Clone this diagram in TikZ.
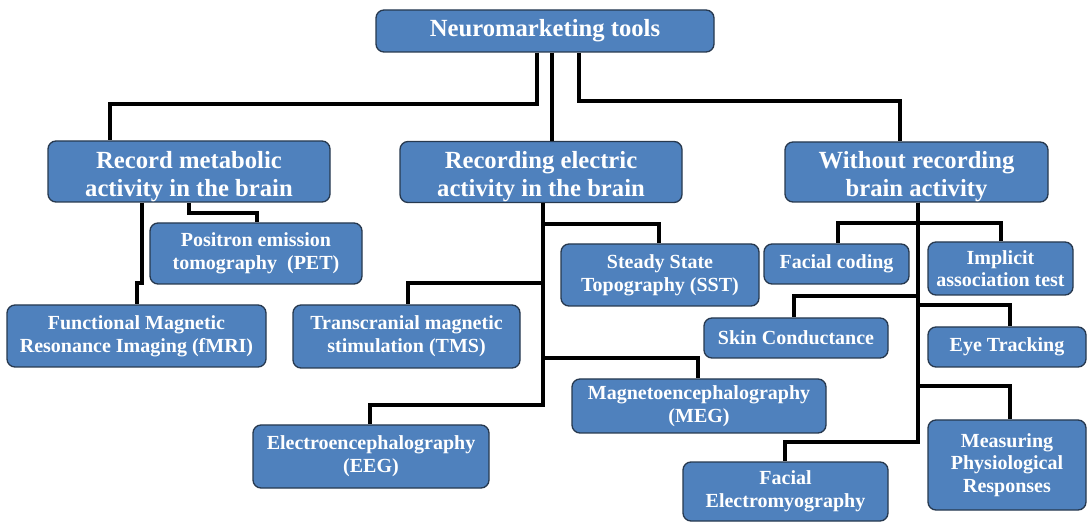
\documentclass[tikz,border=0pt]{standalone}
\usepackage{fontspec}
\setmainfont{Liberation Serif}
\definecolor{boxblue}{HTML}{4F81BD}
\definecolor{boxedge}{HTML}{27394F}
\newcommand{\lift}{\rule{0pt}{20pt}}

\begin{document}
\begin{tikzpicture}[x=0.75pt, y=-0.75pt,
  tool/.style={draw=boxedge, line width=1pt, fill=boxblue, rounded corners=6pt,
    text=white, align=center, inner sep=0pt,
    font=\bfseries\fontsize{15}{17}\selectfont},
  group/.style={tool, font=\bfseries\fontsize{18.5}{21}\selectfont},
  link/.style={line width=3pt, black}]
  \useasboundingbox (0,0) rectangle (1088,523);

  \node[group, minimum width=253.5pt, minimum height=31.5pt] (top) at (545, 31) {Neuromarketing tools};
  \node[group, minimum width=211.5pt, minimum height=45.75pt] (metab) at (189, 171.5) {\lift Record metabolic\\activity in the brain};
  \node[group, minimum width=211.5pt, minimum height=45.75pt] (elec) at (541, 172) {\lift Recording electric\\activity in the brain};
  \node[group, minimum width=197.25pt, minimum height=45pt] (nobrain) at (916.5, 172) {\lift Without recording\\brain activity};

  \node[tool, minimum width=159pt, minimum height=45.75pt] (pet) at (256, 253.5) {Positron emission\\tomography~ (PET)};
  \node[tool, minimum width=194.25pt, minimum height=46.5pt] (fmri) at (136.5, 336) {Functional Magnetic\\Resonance Imaging (fMRI)};
  \node[tool, minimum width=170.25pt, minimum height=47.25pt] (tms) at (406.5, 336.5) {Transcranial magnetic\\stimulation (TMS)};
  \node[tool, minimum width=177pt, minimum height=47.25pt] (eeg) at (371, 456.5) {Electroencephalography\\(EEG)};
  \node[tool, minimum width=148.5pt, minimum height=46.5pt] (sst) at (660, 275) {Steady State\\Topography (SST)};
  \node[tool, minimum width=190.5pt, minimum height=40.5pt] (meg) at (699, 406) {Magnetoencephalography\\(MEG)};
  \node[tool, minimum width=108.75pt, minimum height=30pt] (fcode) at (836.5, 264) {Facial coding};
  \node[tool, minimum width=108.75pt, minimum height=39.75pt] (iat) at (1000.5, 268.5) {Implicit\\association test};
  \node[tool, minimum width=138pt, minimum height=30pt] (skin) at (796, 338) {Skin Conductance};
  \node[tool, minimum width=118.5pt, minimum height=30pt] (eye) at (1007, 347) {Eye Tracking};
  \node[tool, minimum width=118.5pt, minimum height=67.5pt] (mpr) at (1007, 465) {Measuring\\Physiological\\Responses};
  \node[tool, minimum width=153.75pt, minimum height=44.25pt] (femg) at (785.5, 491.5) {Facial\\Electromyography};

  \draw[link] (537,0 |- top.south) |- (110,104) -- (110,0 |- metab.north);
  \draw[link] (552,0 |- top.south) -- (552,0 |- elec.north);
  \draw[link] (579,0 |- top.south) |- (900,101) -- (900,0 |- nobrain.north);

  \draw[link] (142,0 |- metab.south) |- (137,283) -- (137,0 |- fmri.north);
  \draw[link] (189,0 |- metab.south) |- (257,213) -- (257,0 |- pet.north);

  \draw[link] (543,0 |- elec.south) |- (659,224) -- (659,0 |- sst.north);
  \draw[link] (543,0 |- elec.south) |- (408,283) -- (408,0 |- tms.north);
  \draw[link] (543,0 |- elec.south) |- (698,358) -- (698,0 |- meg.north);
  \draw[link] (543,0 |- elec.south) |- (370,405) -- (370,0 |- eeg.north);

  \draw[link] (918,0 |- nobrain.south) |- (838,223) -- (838,0 |- fcode.north);
  \draw[link] (918,0 |- nobrain.south) |- (1001,223) -- (1001,0 |- iat.north);
  \draw[link] (918,0 |- nobrain.south) |- (794,296) -- (794,0 |- skin.north);
  \draw[link] (918,0 |- nobrain.south) |- (1010,305) -- (1010,0 |- eye.north);
  \draw[link] (918,0 |- nobrain.south) |- (1010,386) -- (1010,0 |- mpr.north);
  \draw[link] (918,0 |- nobrain.south) |- (785,442) -- (785,0 |- femg.north);
\end{tikzpicture}
\end{document}
